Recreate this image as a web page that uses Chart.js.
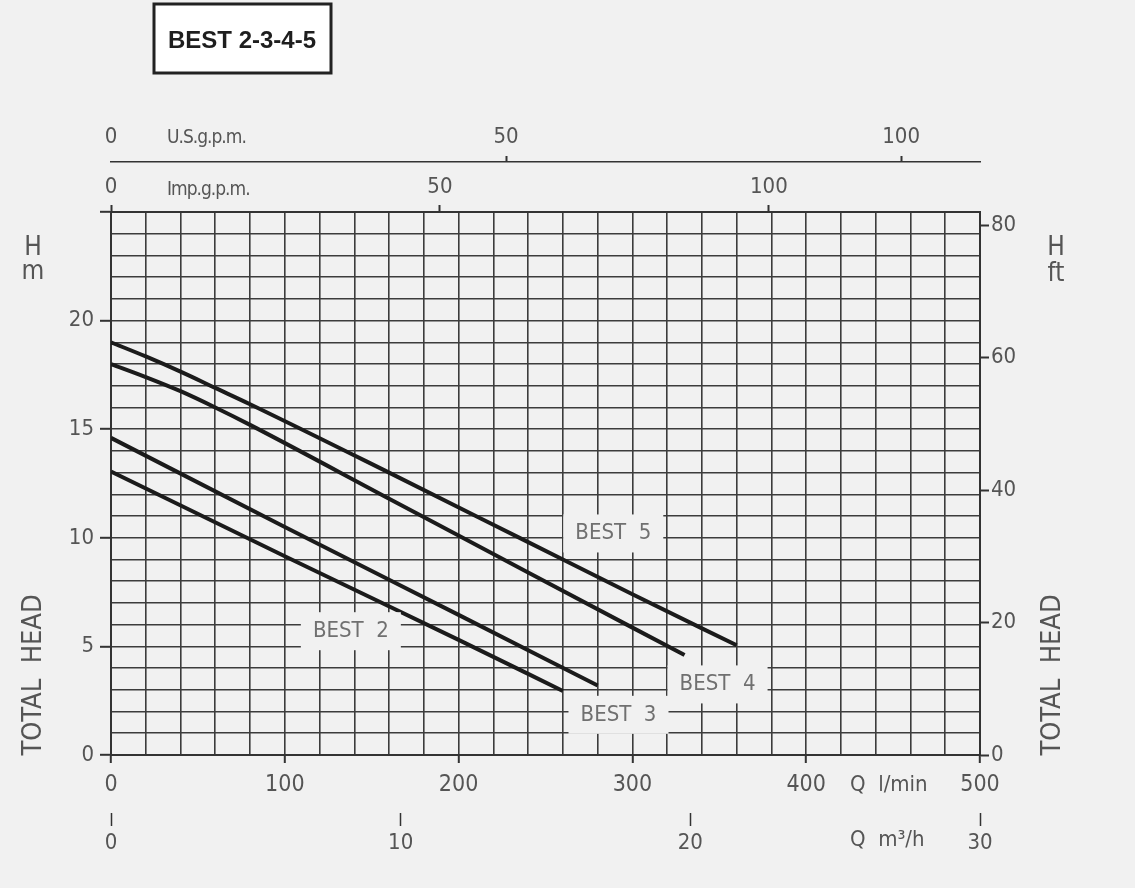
<!DOCTYPE html>
<html>
<head>
<meta charset="utf-8">
<script src="https://cdn.jsdelivr.net/npm/chart.js@4.4.0/dist/chart.umd.min.js"></script>
<style>
  body { margin: 0; background: #f1f1f1; }
  #wrap { width: 1135px; height: 888px; position: relative; }
</style>
</head>
<body>
<div id="wrap"><canvas id="pumpChart"></canvas></div>
<script>
// flow Q (l/min) and total head H (m)
var best2Q = [0, 100, 200, 260];
var best2H = [13.05, 9.15, 5.3, 2.95];
var best3Q = [0, 100, 200, 280];
var best3H = [14.6, 10.5, 6.45, 3.2];
var best4Q = [0, 20, 40, 60, 80, 160, 240, 330];
var best4H = [18.0, 17.4, 16.75, 16.0, 15.2, 11.8, 8.4, 4.6];
var best5Q = [0, 20, 40, 60, 80, 160, 240, 300, 360];
var best5H = [19.0, 18.35, 17.65, 16.9, 16.15, 13.0, 9.8, 7.4, 5.05];

var curveNames = ["BEST 2", "BEST 3", "BEST 4", "BEST 5"];
// where each name sits on the grid (Q, H)
var nameQ = [138, 292, 349, 289];
var nameH = [5.7, 1.85, 3.25, 10.2];

// tick labels
var lminTicks = [0, 100, 200, 300, 400, 500];
var m3hTicks = [0, 10, 20, 30];
var headTicks = [0, 5, 10, 15, 20, 25];
var ftTicks = [0, 20, 40, 60, 80];
var usTicks = [0, 50, 100];
var impTicks = [0, 50, 100];

var qMax = 500, hMax = 25;
var ink = "#333", gridInk = "#3c3c3c", textInk = "#555";
var narrow = "'DejaVu Sans Condensed', 'Liberation Sans', sans-serif";
var tickFont = { family: narrow, size: 22 };

function pts(q, h) {
    return q.map(function (v, i) { return { x: v, y: h[i] }; });
}

function curve(q, h) {
    return {
        data: pts(q, h),
        borderColor: "#1b1b1b",
        borderWidth: 4,
        pointRadius: 0,
        fill: false,
        cubicInterpolationMode: "monotone"
    };
}

function fixedTicks(list) {
    return function (scale) {
        scale.ticks = list.map(function (v) { return { value: v }; });
    };
}

function showIf(list) {
    return function (c) {
        return c.tick && list.indexOf(c.tick.value) >= 0 ? ink : "rgba(0,0,0,0)";
    };
}

var decor = {
    id: "decor",
    beforeDraw: function (chart) {
        var ctx = chart.ctx;
        ctx.save();
        ctx.fillStyle = "#f1f1f1";
        ctx.fillRect(0, 0, chart.width, chart.height);
        ctx.restore();
    },
    afterDatasetsDraw: function (chart) {
        var ctx = chart.ctx, sx = chart.scales.x, sy = chart.scales.y;
        ctx.save();
        ctx.font = "22px " + narrow;
        ctx.textAlign = "center";
        ctx.textBaseline = "middle";
        curveNames.forEach(function (name, i) {
            var px = sx.getPixelForValue(nameQ[i]);
            var py = sy.getPixelForValue(nameH[i]);
            ctx.fillStyle = "#f1f1f1";
            ctx.fillRect(px - 50, py - 19, 100, 38);
            ctx.fillStyle = "#707070";
            ctx.fillText(name.replace(" ", "  "), px, py);
        });
        ctx.restore();
    },
    afterDraw: function (chart) {
        var ctx = chart.ctx, a = chart.chartArea;
        ctx.save();
        // title box
        ctx.strokeStyle = "#222";
        ctx.lineWidth = 3;
        ctx.fillStyle = "#ffffff";
        ctx.fillRect(154, 4, 177, 69);
        ctx.strokeRect(154, 4, 177, 69);
        ctx.fillStyle = "#1e1e1e";
        ctx.font = 'bold 24px "Liberation Sans"';
        ctx.textAlign = "center";
        ctx.textBaseline = "middle";
        ctx.fillText("BEST 2-3-4-5", 242, 41);

        // unit names
        ctx.fillStyle = textInk;
        ctx.textAlign = "left";
        ctx.font = "19px " + narrow;
        ctx.letterSpacing = "-1px";
        ctx.fillText("U.S.g.p.m.", a.left + 56, 138);
        ctx.fillText("Imp.g.p.m.", a.left + 56, 190);
        ctx.letterSpacing = "0px";
        ctx.font = "22px " + narrow;
        ctx.fillText("Q  l/min", 850, 785);
        ctx.fillText("Q  m\u00b3/h", 850, 840);

        ctx.textAlign = "center";
        ctx.font = "26px " + narrow;
        ctx.fillText("H", 33, 248);
        ctx.fillText("m", 33, 272);
        ctx.fillText("H", 1056, 248);
        ctx.fillText("ft", 1056, 274);

        ctx.font = "27px " + narrow;
        [34, 1053].forEach(function (x) {
            ctx.save();
            ctx.translate(x, 675);
            ctx.rotate(-Math.PI / 2);
            ctx.fillText("TOTAL  HEAD", 0, 0);
            ctx.restore();
        });
        ctx.restore();
    }
};

new Chart(document.querySelector("#pumpChart"), {
    type: "line",
    data: {
        datasets: [
            curve(best2Q, best2H),
            curve(best3Q, best3H),
            curve(best4Q, best4H),
            curve(best5Q, best5H)
        ]
    },
    plugins: [decor],
    options: {
        responsive: true,
        maintainAspectRatio: false,
        animation: false,
        layout: { padding: 0 },
        plugins: {
            legend: { display: false },
            tooltip: { enabled: false }
        },
        scales: {
            x: {
                type: "linear", position: "bottom", weight: 1,
                min: 0, max: qMax,
                afterBuildTicks: function (scale) {
                    var t = [];
                    for (var v = 0; v <= qMax; v += 20) t.push({ value: v });
                    scale.ticks = t;
                },
                afterFit: function (s) { s.height = 58; },
                grid: { color: gridInk, lineWidth: 1.6, tickLength: 8, tickColor: showIf(lminTicks), tickWidth: 2 },
                border: { color: ink, width: 2 },
                ticks: {
                    autoSkip: false, maxRotation: 0, padding: 8,
                    color: textInk, font: { family: narrow, size: 23 },
                    callback: function (v) { return lminTicks.indexOf(v) >= 0 ? v : ""; }
                }
            },
            m3h: {
                type: "linear", position: "bottom", weight: 2,
                min: 0, max: 30,
                afterBuildTicks: fixedTicks(m3hTicks),
                afterFit: function (s) { s.height = 75; },
                grid: { drawOnChartArea: false, tickLength: 13, tickColor: ink, tickWidth: 1.5 },
                border: { display: false },
                ticks: { autoSkip: false, maxRotation: 0, padding: 4, color: textInk, font: tickFont }
            },
            us: {
                type: "linear", position: "top", weight: 2,
                min: 0, max: qMax / 4.546,
                afterBuildTicks: fixedTicks(usTicks),
                afterFit: function (s) { s.height = 162; },
                grid: { drawOnChartArea: false, tickLength: 6, tickWidth: 2,
                        tickColor: function (c) { return c.tick && c.tick.value > 0 ? ink : "rgba(0,0,0,0)"; } },
                border: { color: ink, width: 1.5 },
                ticks: { autoSkip: false, maxRotation: 0, padding: 6, color: textInk, font: tickFont }
            },
            imp: {
                type: "linear", position: "top", weight: 1,
                min: 0, max: qMax / 3.785,
                afterBuildTicks: fixedTicks(impTicks),
                afterFit: function (s) { s.height = 50; },
                grid: { drawOnChartArea: false, tickLength: 7, tickColor: ink, tickWidth: 2 },
                border: { color: ink, width: 2 },
                ticks: { autoSkip: false, maxRotation: 0, padding: 5, color: textInk, font: tickFont }
            },
            y: {
                type: "linear", position: "left", weight: 1,
                min: 0, max: hMax,
                afterBuildTicks: function (scale) {
                    var t = [];
                    for (var v = 0; v <= hMax; v += 1) t.push({ value: v });
                    scale.ticks = t;
                },
                afterFit: function (s) { s.width = 111; },
                grid: { color: gridInk, lineWidth: 1.6, tickLength: 11, tickColor: showIf(headTicks), tickWidth: 2 },
                border: { color: ink, width: 2 },
                ticks: {
                    autoSkip: false, padding: 6, color: textInk, font: tickFont,
                    callback: function (v) { return v % 5 === 0 && v < hMax ? v : ""; }
                }
            },
            ft: {
                type: "linear", position: "right", weight: 1,
                min: 0, max: hMax * 3.2808,
                afterBuildTicks: fixedTicks(ftTicks),
                afterFit: function (s) { s.width = 155; },
                grid: { drawOnChartArea: false, tickLength: 9, tickColor: ink, tickWidth: 2 },
                border: { color: ink, width: 2 },
                ticks: { autoSkip: false, padding: 2, color: textInk, font: tickFont }
            }
        }
    }
});
</script>
</body>
</html>
